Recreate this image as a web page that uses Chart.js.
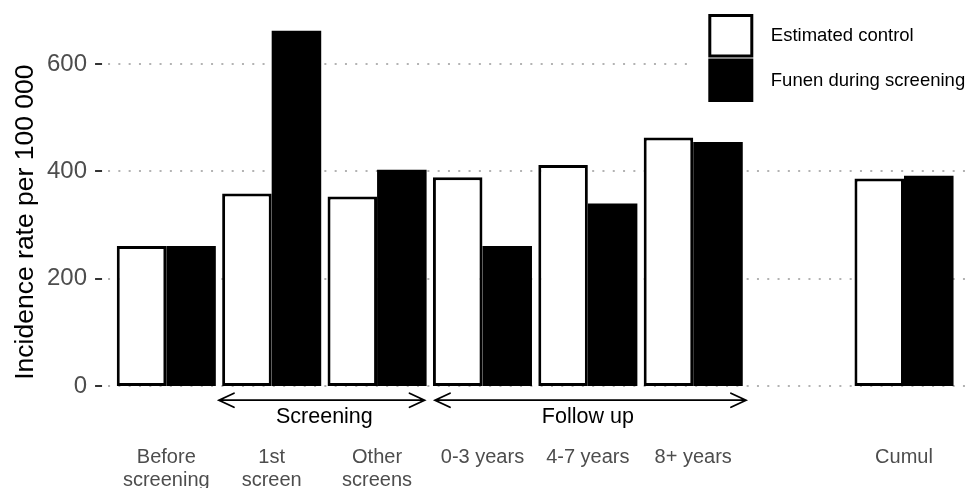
<!DOCTYPE html>
<html>
<head>
<meta charset="utf-8">
<script src="https://cdn.jsdelivr.net/npm/chart.js@4"></script>
<style>
html,body{margin:0;padding:0;background:#fff;}
#wrap{width:966px;height:488px;position:relative;}
</style>
</head>
<body>
<div id="wrap"><canvas id="c"></canvas></div>
<script>
// ---- data ----
const categories = [['Before','screening'], ['1st','screen'], ['Other','screens'], '0-3 years', '4-7 years', '8+ years', '', 'Cumul'];
const seriesNames = ['Estimated control', 'Funen during screening'];
const controlValues = [261, 359, 353, 389, 412, 463, null, 387];
const funenValues   = [261, 662, 403, 261, 340, 455, null, 392];
const yTicks = [0, 200, 400, 600];
const yTitle = 'Incidence rate per 100 000';
const periodLabels = ['Screening', 'Follow up'];
const periodStart  = [0.5, 2.55];   // in category units
const periodEnd    = [2.45, 5.5];
const periodCenter = [1.5, 4];

const FONT = '"Liberation Sans", Arial, Helvetica, sans-serif';

function catPx(xs, v) {
  const p0 = xs.getPixelForValue(0), p1 = xs.getPixelForValue(1);
  return p0 + v * (p1 - p0);
}

const gridPlugin = {
  id: 'ggGrid',
  beforeDatasetsDraw(chart) {
    const {ctx, chartArea, scales: {x, y}} = chart;
    const step = x.getPixelForValue(1) - x.getPixelForValue(0);
    const x0 = chartArea.left - 0.1 * step;
    const x1 = chartArea.right + 0.1 * step;
    ctx.save();
    yTicks.forEach(v => {
      const py = Math.round(y.getPixelForValue(v));
      ctx.strokeStyle = '#b3b3b3';
      ctx.lineWidth = 2;
      ctx.setLineDash([2, 8.3]);
      ctx.lineDashOffset = -5;
      ctx.beginPath(); ctx.moveTo(x0, py); ctx.lineTo(x1, py); ctx.stroke();
      ctx.setLineDash([]);
      ctx.strokeStyle = '#333333';
      ctx.lineWidth = 2;
      ctx.beginPath(); ctx.moveTo(x0 - 8, py); ctx.lineTo(x0 - 1, py); ctx.stroke();
    });
    ctx.restore();
  }
};

const annotPlugin = {
  id: 'ggAnnot',
  afterDraw(chart) {
    const {ctx, scales: {x, y}} = chart;
    ctx.save();
    // period arrows and labels
    const ay = y.getPixelForValue(-26.5);
    const ty = y.getPixelForValue(-68.5);
    ctx.strokeStyle = '#000';
    ctx.lineWidth = 1.8;
    ctx.lineCap = 'round';
    ctx.fillStyle = '#000';
    ctx.font = '21.5px ' + FONT;
    ctx.textAlign = 'center';
    ctx.textBaseline = 'alphabetic';
    periodLabels.forEach((lab, i) => {
      const xa = catPx(x, periodStart[i]), xb = catPx(x, periodEnd[i]);
      ctx.beginPath();
      ctx.moveTo(xa, ay); ctx.lineTo(xb, ay);
      ctx.moveTo(xa + 15, ay - 7); ctx.lineTo(xa, ay); ctx.lineTo(xa + 15, ay + 7);
      ctx.moveTo(xb - 15, ay - 7); ctx.lineTo(xb, ay); ctx.lineTo(xb - 15, ay + 7);
      ctx.stroke();
      ctx.fillText(lab, catPx(x, periodCenter[i]), ty);
    });
    // legend
    const lx = 708.3, kw = 45, kh = 44.5, ly = 14;
    ctx.fillStyle = '#fff';
    ctx.fillRect(695, 0, chart.width - 695, 116);
    chart.data.datasets.forEach((ds, i) => {
      const ky = ly + i * kh;
      ctx.fillStyle = ds.backgroundColor;
      ctx.fillRect(lx, ky, kw, kh - 1);
      if (ds.borderWidth) {
        ctx.strokeStyle = ds.borderColor;
        ctx.lineWidth = 3;
        ctx.strokeRect(lx + 1.5, ky + 1.5, kw - 3, kh - 4);
      }
      ctx.fillStyle = '#000';
      ctx.font = '18.5px ' + FONT;
      ctx.textAlign = 'left';
      ctx.textBaseline = 'middle';
      ctx.fillText(ds.label, lx + 62.5, ky + kh / 2);
    });
    ctx.restore();
  }
};

new Chart(document.getElementById('c'), {
  type: 'bar',
  data: {
    labels: categories,
    datasets: [
      { label: seriesNames[0], data: controlValues, backgroundColor: '#ffffff', borderColor: '#000000', borderWidth: 3, borderSkipped: false },
      { label: seriesNames[1], data: funenValues, backgroundColor: '#000000', borderColor: '#000000', borderWidth: 0 }
    ]
  },
  options: {
    responsive: true,
    maintainAspectRatio: false,
    animation: false,
    datasets: { bar: { categoryPercentage: 0.94, barPercentage: 1.0 } },
    layout: { padding: { left: 0, right: 9.3, top: 11.7, bottom: 0 } },
    plugins: { legend: { display: false }, tooltip: { enabled: false } },
    scales: {
      x: {
        offset: true,
        grid: { display: false, drawTicks: false },
        border: { display: false },
        ticks: { color: '#4d4d4d', font: { family: FONT, size: 20, lineHeight: 1.15 }, padding: 13.5, maxRotation: 0, autoSkip: false },
        afterFit(s) { s.height = 55.5; s.paddingLeft = 0; s.paddingRight = 0; }
      },
      y: {
        min: -86.7, max: 697.7,
        grid: { display: false, drawTicks: false },
        border: { display: false },
        afterBuildTicks(s) { s.ticks = yTicks.map(v => ({ value: v })); },
        ticks: { color: '#4d4d4d', font: { family: FONT, size: 24 }, padding: 26.6 },
        title: { display: true, text: yTitle, color: '#000', font: { family: FONT, size: 26.5, lineHeight: 1.2 }, padding: { top: 9.6, bottom: 0 } },
        afterFit(s) { s.width = 113.6; s.paddingTop = 0; s.paddingBottom = 0; }
      }
    }
  },
  plugins: [gridPlugin, annotPlugin]
});
</script>
</body>
</html>
